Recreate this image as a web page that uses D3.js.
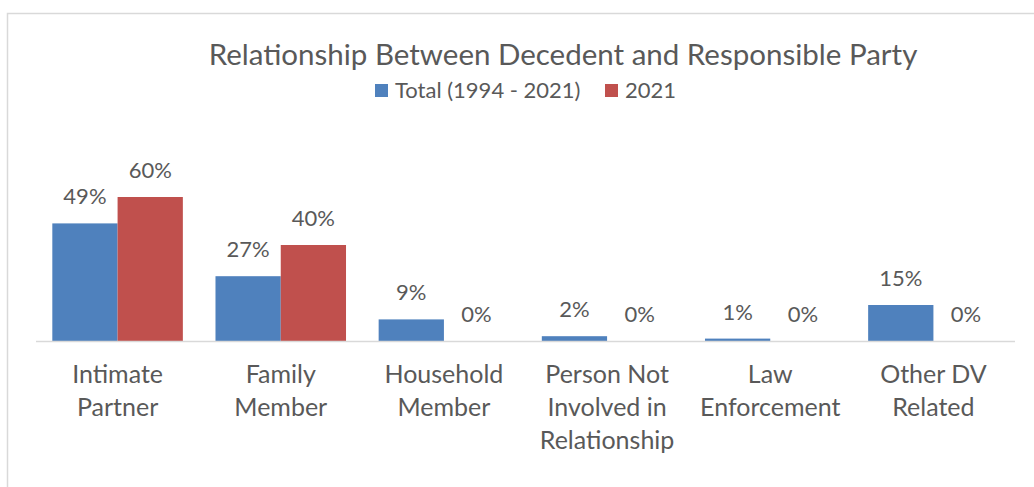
<!DOCTYPE html>
<html>
<head>
<meta charset="utf-8">
<script src="https://cdn.jsdelivr.net/npm/d3@7"></script>
<style>
  html, body { margin: 0; padding: 0; background: #ffffff; }
  svg { display: block; }
  text { font-family: Lato, "Open Sans", sans-serif; fill: #595959; }
</style>
</head>
<body>
<svg id="chart" width="1034" height="487"></svg>
<script>
// Share of cases by relationship between decedent and responsible party
const categories = [
  "Intimate Partner",
  "Family Member",
  "Household Member",
  "Person Not Involved in Relationship",
  "Law Enforcement",
  "Other DV Related"
];
const seriesNames = ["Total (1994 - 2021)", "2021"];
const totalValues = [0.49, 0.27, 0.09, 0.02, 0.01, 0.15];
const year2021Values = [0.60, 0.40, 0.00, 0.00, 0.00, 0.00];
const seriesColors = ["#4F81BD", "#C0504D"];

const width = 1034, height = 487;
const svg = d3.select("#chart");

// Outer chart frame (top and left edges visible)
svg.append("path")
  .attr("d", `M7.5,${height} V13.5 H${width}`)
  .attr("fill", "none")
  .attr("stroke", "#d9d9d9")
  .attr("stroke-width", 1.5);

const plot = { left: 36, right: 1015, top: 173, bottom: 341 };

const x0 = d3.scaleBand()
  .domain(categories)
  .range([plot.left, plot.right])
  .paddingInner(0.2)
  .paddingOuter(0.1);

const x1 = d3.scaleBand()
  .domain(seriesNames)
  .range([0, x0.bandwidth()]);

const y = d3.scaleLinear()
  .domain([0, 0.7])
  .range([plot.bottom, plot.top]);

const rows = categories.map((c, i) => ({
  category: c,
  values: [
    { series: seriesNames[0], value: totalValues[i], color: seriesColors[0] },
    { series: seriesNames[1], value: year2021Values[i], color: seriesColors[1] }
  ]
}));

const groups = svg.append("g").selectAll("g")
  .data(rows)
  .join("g")
  .attr("transform", d => `translate(${x0(d.category)},0)`);

groups.selectAll("rect")
  .data(d => d.values)
  .join("rect")
  .attr("x", d => x1(d.series))
  .attr("width", x1.bandwidth())
  .attr("y", d => y(d.value))
  .attr("height", d => y(0) - y(d.value))
  .attr("fill", d => d.color);

const fmt = d3.format(".0%");
groups.selectAll("text.value")
  .data(d => d.values)
  .join("text")
  .attr("class", "value")
  .attr("x", d => x1(d.series) + x1.bandwidth() / 2)
  .attr("y", d => y(d.value) - 19)
  .attr("text-anchor", "middle")
  .style("font-size", "22px")
  .text(d => fmt(d.value));

// Category axis
const xAxis = svg.append("g")
  .attr("transform", `translate(0,${plot.bottom})`)
  .call(d3.axisBottom(x0).tickSize(0).tickPadding(0));
xAxis.select(".domain")
  .attr("d", `M${plot.left},0.5H${plot.right}`)
  .attr("stroke", "#d9d9d9")
  .attr("stroke-width", 1.5);

// Wrap category labels to the band width
xAxis.selectAll(".tick text")
  .attr("fill", null)
  .style("font-size", "25px")
  .style("font-family", null)
  .each(function (d) {
    const t = d3.select(this);
    const words = d.split(" ");
    const maxW = x0.step() * 0.9;
    t.text(null);
    let lines = [], line = [];
    let tspan = t.append("tspan");
    words.forEach(w => {
      line.push(w);
      tspan.text(line.join(" "));
      if (tspan.node().getComputedTextLength() > maxW && line.length > 1) {
        line.pop();
        lines.push(line.join(" "));
        line = [w];
        tspan.text(w);
      }
    });
    lines.push(line.join(" "));
    t.text(null);
    lines.forEach((l, i) => {
      t.append("tspan")
        .attr("x", 0)
        .attr("y", 42 + i * 33)
        .text(l);
    });
  })
  .attr("dy", null);

// Title
svg.append("text")
  .attr("x", 563)
  .attr("y", 65)
  .attr("text-anchor", "middle")
  .style("font-size", "29.5px")
  .text("Relationship Between Decedent and Responsible Party");

// Legend
const legend = svg.append("g").attr("transform", "translate(375,84)");
const legendX = [0, 230];
seriesNames.forEach((name, i) => {
  const g = legend.append("g").attr("transform", `translate(${legendX[i]},0)`);
  g.append("rect")
    .attr("width", 13)
    .attr("height", 13)
    .attr("fill", seriesColors[i]);
  g.append("text")
    .attr("x", 20)
    .attr("y", 13.5)
    .style("font-size", "22px")
    .text(name);
});
</script>
</body>
</html>
